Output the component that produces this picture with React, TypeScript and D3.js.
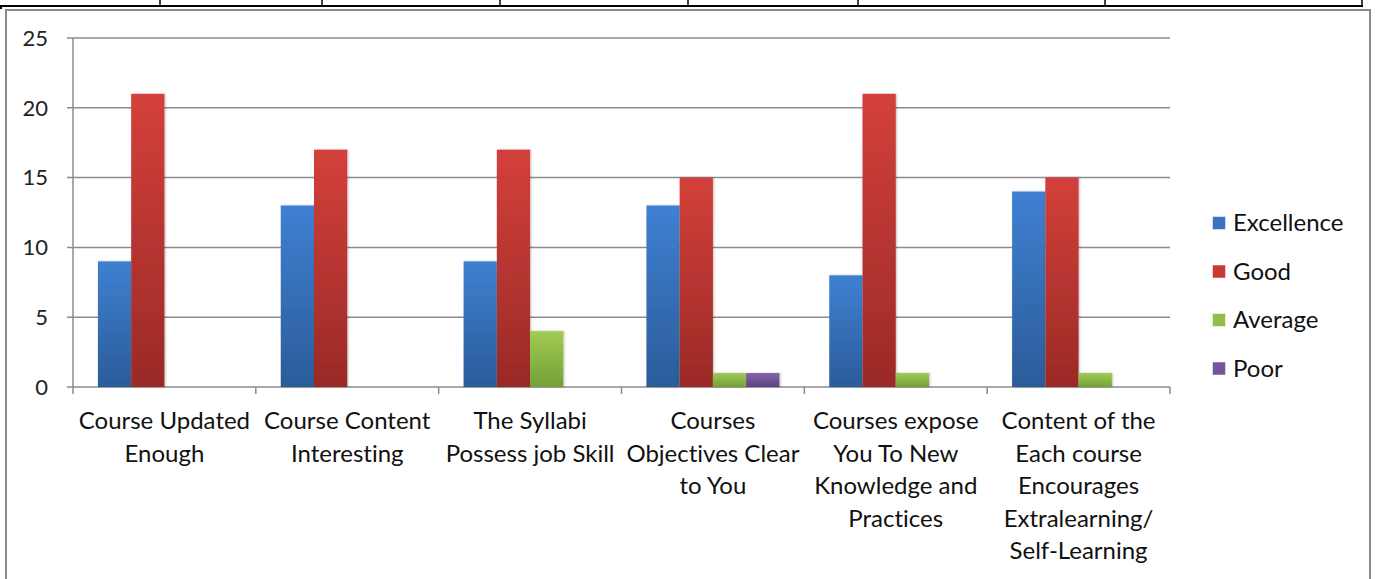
import * as d3 from "d3";
import React from "react";

const categories = [
  ["Course Updated", "Enough"],
  ["Course Content", "Interesting"],
  ["The Syllabi", "Possess job Skill"],
  ["Courses", "Objectives Clear", "to You"],
  ["Courses expose", "You To New", "Knowledge and", "Practices"],
  ["Content of the", "Each course", "Encourages", "Extralearning/", "Self-Learning"],
];
const seriesNames = ["Excellence", "Good", "Average", "Poor"];
const excellence = [9, 13, 9, 13, 8, 14];
const good = [21, 17, 17, 15, 21, 15];
const average = [0, 0, 4, 1, 1, 1];
const poor = [0, 0, 0, 1, 0, 0];
const yTicks = [0, 5, 10, 15, 20, 25];
const tableTicks = [160, 322, 500, 688, 858, 1105, 1362];

const seriesValues = [excellence, good, average, poor];
const colors = [
  ["#3f80d2", "#2b5c99"],
  ["#d4403b", "#992a26"],
  ["#a0cc52", "#73a037"],
  ["#8364ab", "#5d437e"],
];
const legendColors = ["#3a74c0", "#c83a36", "#8fbf45", "#7455a0"];

const W = 1377;
const H = 579;
const left = 73;
const right = 1170;
const top = 38;
const bottom = 387;
const font = "Lato, 'Open Sans', sans-serif";

export default function App() {
  const x0 = d3.scaleBand<number>().domain(d3.range(categories.length)).range([left, right]);
  const bw = x0.bandwidth() / (seriesNames.length + 1.5);
  const x1 = d3
    .scaleBand<number>()
    .domain(d3.range(seriesNames.length))
    .range([bw * 0.75, bw * 0.75 + bw * seriesNames.length]);
  const y = d3.scaleLinear().domain([0, 25]).range([bottom, top]);

  return (
    <svg
      width={W}
      height={H}
      style={{ position: "absolute", left: 0, top: 0, background: "#fff", fontVariantLigatures: "none" }}
      fontFamily={font}
    >
      <defs>
        {colors.map((c, i) => (
          <linearGradient key={i} id={`g${i}`} x1="0" y1="0" x2="0" y2="1">
            <stop offset="0%" stopColor={c[0]} />
            <stop offset="100%" stopColor={c[1]} />
          </linearGradient>
        ))}
        <filter id="sh" x="-20%" y="-5%" width="140%" height="110%">
          <feDropShadow dx="1" dy="0" stdDeviation="1" floodColor="#000" floodOpacity="0.25" />
        </filter>
      </defs>

      {/* table row fragment at the top */}
      <line x1={0} x2={1363} y1={6} y2={6} stroke="#000" strokeWidth={2} />
      <line x1={1} x2={1} y1={6} y2={9} stroke="#000" strokeWidth={2} />
      {tableTicks.map((t) => (
        <line key={t} x1={t} x2={t} y1={0} y2={6} stroke="#000" strokeWidth={1.5} />
      ))}

      {/* chart frame */}
      <path d={`M6,${H + 5} V10 H1370 V${H + 5}`} fill="none" stroke="#8a8a8a" strokeWidth={2} />

      {/* grid + y labels */}
      {yTicks.map((t) => (
        <g key={t}>
          <line x1={67} x2={right} y1={y(t)} y2={y(t)} stroke="#8c8c8c" strokeWidth={1.5} />
          <text x={48} y={y(t)} dy="0.35em" textAnchor="end" fontSize={22} fill="#222">
            {t}
          </text>
        </g>
      ))}
      <line x1={left} x2={left} y1={top} y2={bottom} stroke="#8c8c8c" strokeWidth={1.5} />
      {d3.range(categories.length + 1).map((i) => {
        const xx = i < categories.length ? x0(i)! : right;
        return <line key={i} x1={xx} x2={xx} y1={bottom} y2={bottom + 7} stroke="#8c8c8c" strokeWidth={1.5} />;
      })}

      {/* bars */}
      {seriesValues.map((vals, s) =>
        vals.map((v, c) =>
          v > 0 ? (
            <rect
              key={`${s}-${c}`}
              x={x0(c)! + x1(s)!}
              y={y(v)}
              width={bw}
              height={y(0) - y(v)}
              fill={`url(#g${s})`}
              filter="url(#sh)"
            />
          ) : null
        )
      )}

      {/* category labels */}
      {categories.map((lines, c) => (
        <text
          key={c}
          x={x0(c)! + x0.bandwidth() / 2}
          y={429}
          textAnchor="middle"
          fontSize={24}
          fill="#111"
        >
          {lines.map((l, k) => (
            <tspan key={k} x={x0(c)! + x0.bandwidth() / 2} dy={k === 0 ? 0 : 32.5}>
              {l}
            </tspan>
          ))}
        </text>
      ))}

      {/* legend */}
      {seriesNames.map((n, i) => {
        const cy = 223 + i * 48.5;
        return (
          <g key={n}>
            <rect x={1213} y={cy - 6} width={12} height={12} fill={legendColors[i]} stroke={legendColors[i]} strokeOpacity={0.5} />
            <text x={1233} y={cy} dy="0.35em" fontSize={24} fill="#111">
              {n}
            </text>
          </g>
        );
      })}
    </svg>
  );
}
